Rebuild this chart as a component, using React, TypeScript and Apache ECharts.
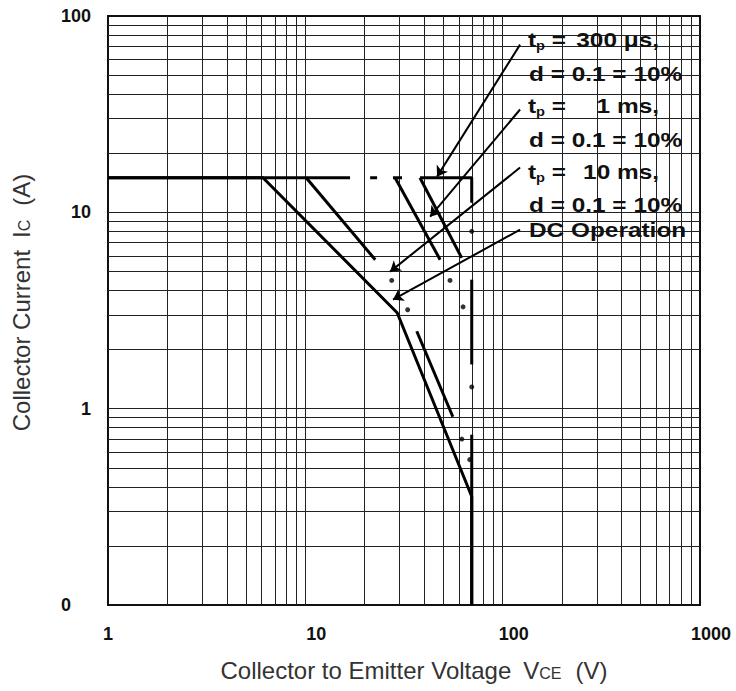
import React, { useEffect, useRef } from 'react';
import * as echarts from 'echarts';

const FONT = '"Liberation Sans", Arial, Helvetica, sans-serif';

// Tick labels
const xTickLabels = ['1', '10', '100', '1000'];
const yTickLabels = ['0', '1', '10', '100'];

// Log grid lines
const xGridValues = [2, 3, 4, 5, 6, 7, 8, 9, 10, 20, 30, 40, 50, 60, 70, 80, 90, 100, 200, 300, 400, 500, 600, 700, 800, 900];
const yGridValues = [0.2, 0.3, 0.4, 0.5, 0.6, 0.7, 0.8, 0.9, 1, 2, 3, 4, 5, 6, 7, 8, 9, 10, 20, 30, 40, 50, 60, 70, 80, 90];

// DC operation SOA boundary (Vce [V], Ic [A])
const dcCurve = [[1, 15], [6.1, 15], [29.2, 3.08], [69.7, 0.357], [69.7, 0.1]];

// tp = 300 us : 15 A limit out to Vces, then vertical Vces limit (dash-dot pattern pieces)
const pulse300Segments = [
  [[1, 15], [16.85, 15]],
  [[21.3, 15], [23.1, 15]],
  [[27.8, 15], [30.9, 15]],
  [[38.1, 15], [69.7, 15], [69.7, 11.2]],
  [[69.7, 4.54], [69.7, 1.68]],
  [[69.7, 0.737], [69.7, 0.1]],
];
const pulse300Dots = [[69.7, 8.0], [69.7, 1.29]];

// tp = 1 ms
const pulse1msSegments = [[[38.1, 15], [62, 5.86]]];
// second steep pulse line
const pulseBSegments = [[[28.5, 15], [48.2, 5.74]]];
const pulseBDots = [[54.1, 4.5], [63, 3.3]];

// tp = 10 ms
const pulse10msSegments = [
  [[10.1, 15], [22.6, 5.74]],
  [[36.7, 2.48], [55.9, 0.91]],
];
const pulse10msDots = [[27.4, 4.5], [33, 3.19], [62.1, 0.7], [68.1, 0.55]];

// Annotation arrows (from label to curve)
const arrowFrom = [[122.5, 71.5], [122.5, 33.4], [122.5, 16.9], [122.5, 8.16]];
const arrowTo = [[46.5, 15.2], [42.9, 9.5], [26.9, 4.99], [27.8, 3.59]];

// Annotation texts
const pulseValues = ['300 μs,', '1 ms,', '10 ms,'];
const dutyText = 'd = 0.1 = 10%';
const dcText = 'DC Operation';

function segSeries(segs: number[][][], width = 3) {
  return segs.map((s) => ({
    type: 'line',
    data: s,
    symbol: 'none',
    showSymbol: false,
    silent: true,
    z: 5,
    lineStyle: { color: '#000', width, type: 'solid' },
    animation: false,
  }));
}

function dotSeries(d: number[][]) {
  return {
    type: 'scatter',
    data: d,
    symbol: 'circle',
    symbolSize: 5,
    silent: true,
    z: 5,
    itemStyle: { color: '#000' },
    animation: false,
  };
}

export default function App() {
  const ref = useRef<HTMLDivElement>(null);
  useEffect(() => {
    if (!ref.current) return;
    const chart = echarts.init(ref.current, null, { renderer: 'svg' });

    const tickRich = {
      a: { fontSize: 18, fontWeight: 'bold', fontFamily: FONT, color: '#111' },
      b: { fontSize: 18, fontWeight: 'bold', fontFamily: FONT, color: '#111', padding: [0, 0, 0, 22] },
    };
    const yRich = {
      n: { fontSize: 18, fontWeight: 'bold', fontFamily: FONT, color: '#111' },
      z: { fontSize: 18, fontWeight: 'bold', fontFamily: FONT, color: '#111', padding: [0, 20, 0, 0] },
    };
    const nameBase = { fontSize: 24, fontFamily: FONT, color: '#333' };
    const nameRich = {
      n: { ...nameBase },
      v: { ...nameBase, padding: [0, 0, 0, 12] },
      s: { fontSize: 16, fontFamily: FONT, color: '#333', padding: [6, 0, 0, 0] },
      p: { ...nameBase, padding: [0, 0, 0, 14] },
    };

    const SX = 1.22;
    const boxFont = { fontSize: 20, fontWeight: 'bold', fontFamily: FONT, fill: '#111' };
    const boxRich = {
      t: { fontSize: 20, fontWeight: 'bold', fontFamily: FONT, color: '#111' },
      p: { fontSize: 12, fontWeight: 'bold', fontFamily: FONT, color: '#111', padding: [12, 0, 0, 0] },
    };
    const lineYs = [40, 74, 106, 140, 172, 205, 230];
    const texts: any[] = [];
    pulseValues.forEach((v, i) => {
      texts.push({
        type: 'text', x: 528, y: lineYs[i * 2], scaleX: SX, z: 10, silent: true,
        style: { text: '{t|t}{p|p}{t| =}', rich: boxRich, ...boxFont, align: 'left', textAlign: 'left', verticalAlign: 'middle', textVerticalAlign: 'middle' },
      });
      texts.push({
        type: 'text', x: 659, y: lineYs[i * 2], scaleX: SX, z: 10, silent: true,
        style: { text: v, ...boxFont, align: 'right', textAlign: 'right', verticalAlign: 'middle', textVerticalAlign: 'middle' },
      });
      texts.push({
        type: 'text', x: 529, y: lineYs[i * 2 + 1], scaleX: SX, z: 10, silent: true,
        style: { text: dutyText, ...boxFont, align: 'left', textAlign: 'left', verticalAlign: 'middle', textVerticalAlign: 'middle' },
      });
    });
    texts.push({
      type: 'text', x: 529, y: lineYs[6], scaleX: SX, z: 10, silent: true,
      style: { text: dcText, ...boxFont, align: 'left', textAlign: 'left', verticalAlign: 'middle', textVerticalAlign: 'middle' },
    });

    const option: any = {
      animation: false,
      backgroundColor: '#fff',
      grid: { show: true, left: 108, right: 36, top: 16, bottom: 86, borderColor: '#111', borderWidth: 2, backgroundColor: 'transparent' },
      xAxis: {
        type: 'log', logBase: 10, min: 1, max: 1000,
        axisLine: { show: true, lineStyle: { color: '#111', width: 2 } },
        axisTick: { show: false },
        splitLine: { show: false },
        minorSplitLine: { show: false },
        axisLabel: {
          margin: 20, showMinLabel: true, showMaxLabel: true,
          formatter: (v: number) => {
            const i = Math.round(Math.log10(v));
            return i === 0 ? `{a|${xTickLabels[i]}}` : `{b|${xTickLabels[i]}}`;
          },
          rich: tickRich,
        },
        name: '{n|Collector to Emitter Voltage}{v|V}{s|CE}{p|(V)}',
        nameLocation: 'middle', nameGap: 53,
        nameTextStyle: { ...nameBase, padding: [0, 0, 0, 20], rich: nameRich },
      },
      yAxis: {
        type: 'log', logBase: 10, min: 0.1, max: 100,
        axisLine: { show: true, lineStyle: { color: '#111', width: 2 } },
        axisTick: { show: false },
        splitLine: { show: false },
        minorSplitLine: { show: false },
        axisLabel: {
          margin: 17, showMinLabel: true, showMaxLabel: true,
          formatter: (v: number) => {
            const i = Math.round(Math.log10(v)) + 1;
            return i === 0 ? `{z|${yTickLabels[i]}}` : `{n|${yTickLabels[i]}}`;
          },
          rich: yRich,
        },
        name: '{n|Collector Current}{v|I}{s|C}{p|(A)}',
        nameLocation: 'middle', nameGap: 75,
        nameTextStyle: { ...nameBase, padding: [0, 0, 0, 16], rich: nameRich },
      },
      graphic: [
        { type: 'rect', z: 3, silent: true, shape: { x: 522, y: 18, width: 173, height: 225 }, style: { fill: '#fff' } },
        ...texts,
      ],
      series: [
        {
          type: 'line', data: [[1, 0.1]], symbol: 'none', showSymbol: false, silent: true, z: 1,
          lineStyle: { opacity: 0 },
          markLine: {
            silent: true, symbol: ['none', 'none'], label: { show: false }, animation: false,
            lineStyle: { color: '#222', width: 1, type: 'solid' },
            emphasis: { disabled: true },
            data: [...xGridValues.map((v) => ({ xAxis: v })), ...yGridValues.map((v) => ({ yAxis: v }))],
          },
        },
        ...segSeries([dcCurve]),
        ...segSeries(pulse300Segments),
        dotSeries(pulse300Dots),
        ...segSeries(pulse1msSegments),
        ...segSeries(pulseBSegments),
        dotSeries(pulseBDots),
        ...segSeries(pulse10msSegments),
        dotSeries(pulse10msDots),
        {
          type: 'line', data: [[1, 0.1]], symbol: 'none', showSymbol: false, silent: true, z: 6,
          lineStyle: { opacity: 0 },
          markLine: {
            silent: true, symbol: ['none', 'arrow'], symbolSize: 10, label: { show: false }, animation: false,
            lineStyle: { color: '#000', width: 2, type: 'solid' },
            emphasis: { disabled: true },
            data: arrowFrom.map((f, i) => [{ coord: f }, { coord: arrowTo[i] }]),
          },
        },
      ],
    };
    chart.setOption(option);
    return () => chart.dispose();
  }, []);
  return <div ref={ref} style={{ position: 'absolute', left: 0, top: 0, width: 736, height: 691 }} />;
}
